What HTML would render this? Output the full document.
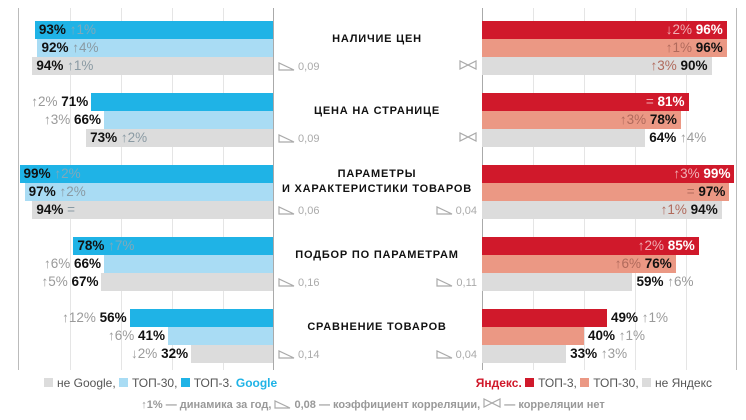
<!DOCTYPE html><html><head><meta charset="utf-8"><style>
body{margin:0;width:746px;height:420px;background:#fff;position:relative;overflow:hidden;font-family:"Liberation Sans",sans-serif}
div{position:absolute}
#r{left:0;top:0;width:746px;height:420px}
.b{height:18px}
.t{font-size:13.5px;font-weight:bold;color:#111;line-height:18px;white-space:nowrap}
.c{color:#9a9a9a;font-weight:normal}
.g{background:#e5e5e5;width:1px}
.ttl{font-size:11px;font-weight:bold;letter-spacing:.8px;color:#111;text-align:center;width:200px;left:277px;line-height:15px}
.cr{font-size:11px;color:#aaa;line-height:14px;white-space:nowrap}
</style></head><body>
<div id="r"></div>
<script>
const L=273,R=482,S=2.56;let h='';
[18,70,121,172,223,533,584,635,686,736].forEach(x=>h+=`<div class="g" style="left:${x}px;top:8px;height:362px"></div>`);
h+=`<div style="left:273px;top:8px;width:1px;height:362px;background:#aaa"></div><div style="left:482px;top:8px;width:1px;height:362px;background:#aaa"></div>`;
h+=`<div style="left:18px;top:8px;width:1px;height:362px;background:#bbb"></div><div style="left:736px;top:8px;width:1px;height:362px;background:#bbb"></div>`;
const G=[
{t:['НАЛИЧИЕ ЦЕН'],l:[[93,'↑1%',1],[92,'↑4%',1],[94,'↑1%',1]],r:[[96,'↓2%',1],[96,'↑1%',1],[90,'↑3%',1]],cl:'0,09',cr:null},
{t:['ЦЕНА НА СТРАНИЦЕ'],l:[[71,'↑2%',0],[66,'↑3%',0],[73,'↑2%',1]],r:[[81,'=',1],[78,'↑3%',1],[64,'↑4%',0]],cl:'0,09',cr:null},
{t:['ПАРАМЕТРЫ','И ХАРАКТЕРИСТИКИ ТОВАРОВ'],l:[[99,'↑2%',1],[97,'↑2%',1],[94,'=',1]],r:[[99,'↑3%',1],[97,'=',1],[94,'↑1%',1]],cl:'0,06',cr:'0,04'},
{t:['ПОДБОР ПО ПАРАМЕТРАМ'],l:[[78,'↑7%',1],[66,'↑6%',0],[67,'↑5%',0]],r:[[85,'↑2%',1],[76,'↑6%',1],[59,'↑6%',0]],cl:'0,16',cr:'0,11'},
{t:['СРАВНЕНИЕ ТОВАРОВ'],l:[[56,'↑12%',0],[41,'↑6%',0],[32,'↓2%',0]],r:[[49,'↑1%',0],[40,'↑1%',0],[33,'↑3%',0]],cl:'0,14',cr:'0,04'}];
const LC=['#1fb3e6','#a9dcf4','#dcdcdc'],RC=['#d0192b','#eb9884','#dcdcdc'];
const tri=`<svg width="17" height="9" style="vertical-align:-1px"><path d="M1 1 L1 8 L16 8 Z" fill="none" stroke="#aaa" stroke-width="1.2"/></svg>`;
const bow=`<svg width="18" height="10"><path d="M1 1 L1 9 L17 1 L17 9 Z M1 1 L9 5 L17 1" fill="none" stroke="#aaa" stroke-width="1.2"/></svg>`;
G.forEach((g,i)=>{const y0=21+i*72;
g.l.forEach((d,j)=>{const y=y0+j*18,w=d[0]*S,x=L-w;
h+=`<div class="b" style="left:${x}px;top:${y}px;width:${w}px;background:${LC[j]}"></div>`;
if(d[2])h+=`<div class="t" style="left:${x+4}px;top:${y}px">${d[0]}% <span class="c" style="color:${j==0?'#7fa9bb':'#8a9aa3'}">${d[1]}</span></div>`;
else h+=`<div class="t" style="right:${746-x+3}px;top:${y}px"><span class="c">${d[1]}</span> ${d[0]}%</div>`;});
g.r.forEach((d,j)=>{const y=y0+j*18,w=d[0]*2.55,x=R;
h+=`<div class="b" style="left:${x}px;top:${y}px;width:${w}px;background:${RC[j]}"></div>`;
if(d[2])h+=`<div class="t" style="right:${746-x-w+4}px;top:${y}px;color:${j==0?'#fff':'#111'}"><span class="c" style="color:${j==0?'#f0b0b5':'#b06a5c'}">${d[1]}</span> ${d[0]}%</div>`;
else h+=`<div class="t" style="left:${x+w+4}px;top:${y}px">${d[0]}% <span class="c">${d[1]}</span></div>`;});
const ty=g.t.length==1?y0+11:y0+2;
h+=`<div class="ttl" style="top:${ty}px">${g.t.join('<br>')}</div>`;
h+=`<div class="cr" style="left:278px;top:${y0+39}px">${tri} ${g.cl}</div>`;
h+=`<div class="cr" style="right:${746-477}px;top:${y0+39}px">${g.cr?tri+' '+g.cr:bow}</div>`;});
const sq=c=>`<span style="display:inline-block;width:9px;height:9px;background:${c};margin-right:4px"></span>`;
h+=`<div style="left:44px;top:376px;font-size:12px;color:#555;white-space:nowrap">${sq('#dcdcdc')}не Google, ${sq('#a9dcf4')}ТОП-30, ${sq('#1fb3e6')}ТОП-3. <b style="color:#1fb3e6">Google</b></div>`;
h+=`<div style="right:34px;top:376px;font-size:12px;color:#555;white-space:nowrap"><b style="color:#d0192b">Яндекс.</b> ${sq('#d0192b')}ТОП-3, ${sq('#eb9884')}ТОП-30, ${sq('#dcdcdc')}не Яндекс</div>`;
h+=`<div style="left:0;width:746px;text-align:center;top:398px;font-size:11px;color:#999;font-weight:bold;white-space:nowrap">↑1% — динамика за год, ${tri} 0,08 — коэффициент корреляции, ${bow} — корреляции нет</div>`;
document.getElementById('r').innerHTML=h;
</script></body></html>
